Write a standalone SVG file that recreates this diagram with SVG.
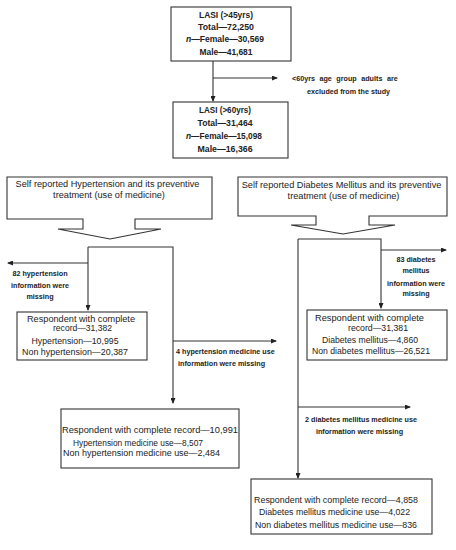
<svg xmlns="http://www.w3.org/2000/svg" width="456" height="550" viewBox="0 0 456 550">
<defs>
<marker id="ah" markerWidth="6" markerHeight="5" refX="5" refY="2.5" orient="auto" markerUnits="userSpaceOnUse"><path d="M0,0 L6,2.5 L0,5 Z" fill="#222"/></marker>
<style>
.box{fill:#fff;stroke:#333;stroke-width:1.1}
.ln{fill:none;stroke:#333;stroke-width:1.1}
text{font-family:"Liberation Sans",Arial,sans-serif;fill:#222}
.b{font-weight:bold;font-size:8.8px;text-anchor:middle}
.h{font-size:9.2px;text-anchor:middle}
.r{font-size:9px}
.s{font-size:9.2px}
.l{font-weight:bold;font-size:7.2px}
.lm{font-weight:bold;font-size:7.2px;text-anchor:middle}
</style>
</defs>
<rect width="456" height="550" fill="#fff"/>
<g id="connectors">
<path class="ln" d="M213,61 V101" marker-end="url(#ah)"/>
<path class="ln" d="M213,78 H277" marker-end="url(#ah)"/>
<path class="ln" d="M88,247 H173 V403" marker-end="url(#ah)"/>
<path class="ln" d="M88,247 V310" marker-end="url(#ah)"/>
<path class="ln" d="M88,263 H8" marker-end="url(#ah)"/>
<path class="ln" d="M173,341 H276" marker-end="url(#ah)"/>
<path class="ln" d="M298,239 H381 V308" marker-end="url(#ah)"/>
<path class="ln" d="M298,239 V478" marker-end="url(#ah)"/>
<path class="ln" d="M381,250 H446" marker-end="url(#ah)"/>
<path class="ln" d="M298,407 H410" marker-end="url(#ah)"/>
</g>
<g id="lasi45">
<rect class="box" x="171" y="7" width="120" height="54"/>
<text class="b" x="226" y="18" textLength="54" lengthAdjust="spacingAndGlyphs">LASI (&gt;45yrs)</text>
<text class="b" x="226" y="30" textLength="56" lengthAdjust="spacingAndGlyphs">Total—72,250</text>
<text class="b" x="225" y="42" textLength="78" lengthAdjust="spacingAndGlyphs"><tspan font-style="italic">n</tspan>—Female—30,569</text>
<text class="b" x="226" y="55" textLength="53" lengthAdjust="spacingAndGlyphs">Male—41,681</text>
</g>
<g id="excluded">
<text class="l" x="292" y="80.5" word-spacing="2.5">&lt;60yrs age group adults are</text>
<text class="l" x="307" y="93.5" font-size="7.6">excluded from the study</text>
</g>
<g id="lasi60">
<rect class="box" x="173" y="102" width="115" height="56"/>
<text class="b" x="225" y="113" textLength="52" lengthAdjust="spacingAndGlyphs">LASI (&gt;60yrs)</text>
<text class="b" x="225" y="126" textLength="55" lengthAdjust="spacingAndGlyphs">Total—31,464</text>
<text class="b" x="224" y="139" textLength="76" lengthAdjust="spacingAndGlyphs"><tspan font-style="italic">n</tspan>—Female—15,098</text>
<text class="b" x="225" y="152" textLength="55" lengthAdjust="spacingAndGlyphs">Male—16,366</text>
</g>
<g id="htn-header">
<path class="box" d="M7,177 H212 V219 H135 V229 H161 L110,239 L58,229 H83 V219 H7 Z"/>
<text class="h" x="107.5" y="187">Self reported Hypertension and its preventive</text>
<text class="h" x="109" y="198">treatment (use of medicine)</text>
</g>
<g id="dm-header">
<path class="box" d="M238,177 H447 V216 H369 V225 H395 L343,234 L291,225 H316 V216 H238 Z"/>
<text class="h" x="341.5" y="188">Self reported Diabetes Mellitus and its preventive</text>
<text class="h" x="343.5" y="199">treatment (use of medicine)</text>
</g>
<g id="htn-missing">
<text class="lm" x="40" y="276">82 hypertension</text>
<text class="lm" x="40" y="288">information were</text>
<text class="lm" x="40" y="299">missing</text>
</g>
<g id="htn-record">
<rect class="box" x="17" y="312" width="130" height="48"/>
<text class="r" x="27" y="322" textLength="108" lengthAdjust="spacingAndGlyphs">Respondent with complete</text>
<text class="r" x="53" y="331" textLength="59" lengthAdjust="spacingAndGlyphs">record—31,382</text>
<text class="r" x="31.5" y="344" textLength="87" lengthAdjust="spacingAndGlyphs">Hypertension—10,995</text>
<text class="r" x="22" y="355" textLength="106" lengthAdjust="spacingAndGlyphs">Non hypertension—20,387</text>
</g>
<g id="htn-med-missing">
<text class="l" x="176" y="354">4 hypertension medicine use</text>
<text class="l" x="178" y="366">information were missing</text>
</g>
<g id="htn-med">
<rect class="box" x="61" y="409" width="178" height="59"/>
<text class="s" x="62" y="433" textLength="176" lengthAdjust="spacingAndGlyphs">Respondent with complete record—10,991</text>
<text class="s" x="73" y="446" textLength="130" lengthAdjust="spacingAndGlyphs">Hypertension medicine use—8,507</text>
<text class="s" x="63" y="456" textLength="157" lengthAdjust="spacingAndGlyphs">Non hypertension medicine use—2,484</text>
</g>
<g id="dm-missing">
<text class="lm" x="416" y="262">83 diabetes</text>
<text class="lm" x="416" y="273">mellitus</text>
<text class="lm" x="416" y="286">information were</text>
<text class="lm" x="416" y="296">missing</text>
</g>
<g id="dm-record">
<rect class="box" x="307" y="310" width="140" height="50"/>
<text class="r" x="315" y="321" textLength="109" lengthAdjust="spacingAndGlyphs">Respondent with complete</text>
<text class="r" x="348" y="331" textLength="60" lengthAdjust="spacingAndGlyphs">record—31,381</text>
<text class="r" x="322" y="343" textLength="96" lengthAdjust="spacingAndGlyphs">Diabetes mellitus—4,860</text>
<text class="r" x="312" y="354" textLength="118" lengthAdjust="spacingAndGlyphs">Non diabetes mellitus—26,521</text>
</g>
<g id="dm-med-missing">
<text class="lm" x="361" y="422">2 diabetes mellitus medicine use</text>
<text class="lm" x="359.5" y="434">information were missing</text>
</g>
<g id="dm-med">
<rect class="box" x="251" y="479" width="181" height="55"/>
<text class="s" x="254" y="503" textLength="164" lengthAdjust="spacingAndGlyphs">Respondent with complete record—4,858</text>
<text class="s" x="259" y="515" textLength="151" lengthAdjust="spacingAndGlyphs">Diabetes mellitus medicine use—4,022</text>
<text class="s" x="255" y="528" textLength="162" lengthAdjust="spacingAndGlyphs">Non diabetes mellitus medicine use—836</text>
</g>
</svg>
